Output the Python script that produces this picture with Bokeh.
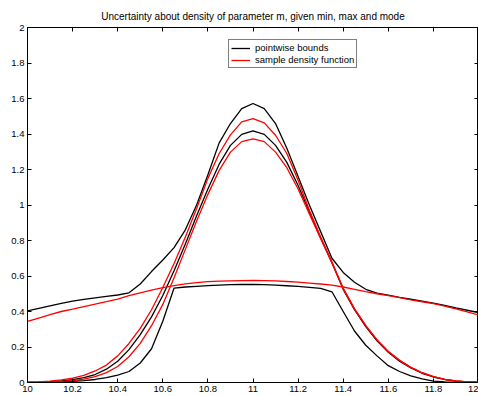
from bokeh.plotting import figure
from bokeh.models import Range1d, LinearAxis, FixedTicker, Legend, LegendItem
from bokeh.embed import file_html
from bokeh.resources import INLINE

title_text = "Uncertainty about density of parameter m, given min, max and mode"

x_vals = [10.00, 10.05, 10.10, 10.15, 10.20, 10.25, 10.30, 10.35, 10.40, 10.45,
          10.50, 10.55, 10.60, 10.65, 10.70, 10.75, 10.80, 10.85, 10.90, 10.95,
          11.00, 11.05, 11.10, 11.15, 11.20, 11.25, 11.30, 11.35, 11.40, 11.45,
          11.50, 11.55, 11.60, 11.65, 11.70, 11.75, 11.80, 11.85, 11.90, 11.95, 12.00]

# pointwise bounds (black)
bound_upper = [0.404, 0.418, 0.432, 0.446, 0.458, 0.468, 0.477, 0.485, 0.493, 0.505,
               0.555, 0.625, 0.690, 0.760, 0.860, 1.000, 1.170, 1.350, 1.459, 1.543,
               1.572, 1.543, 1.459, 1.320, 1.160, 1.000, 0.850, 0.700, 0.620, 0.565,
               0.525, 0.503, 0.492, 0.480, 0.469, 0.458, 0.447, 0.434, 0.420, 0.407, 0.394]
bound_lower = [0.000, 0.001, 0.002, 0.004, 0.007, 0.011, 0.017, 0.028, 0.042, 0.062,
               0.110, 0.190, 0.345, 0.532, 0.538, 0.542, 0.546, 0.549, 0.551, 0.552,
               0.552, 0.551, 0.549, 0.545, 0.541, 0.536, 0.530, 0.511, 0.400, 0.290,
               0.210, 0.150, 0.095, 0.062, 0.037, 0.020, 0.008, 0.003, 0.001, 0.000, 0.000]
bound_mid = [0.001, 0.002, 0.005, 0.009, 0.016, 0.027, 0.045, 0.075, 0.120, 0.185,
             0.270, 0.370, 0.490, 0.630, 0.780, 0.940, 1.090, 1.230, 1.336, 1.398,
             1.417, 1.398, 1.336, 1.240, 1.110, 0.960, 0.815, 0.675, 0.525, 0.410,
             0.315, 0.235, 0.170, 0.120, 0.082, 0.052, 0.031, 0.017, 0.008, 0.003, 0.001]

# sample density functions (red)
sample_high = [0.002, 0.004, 0.008, 0.015, 0.025, 0.040, 0.065, 0.098, 0.150, 0.220,
               0.305, 0.410, 0.535, 0.670, 0.820, 0.980, 1.150, 1.290, 1.395, 1.468,
               1.487, 1.463, 1.393, 1.290, 1.140, 0.970, 0.820, 0.680, 0.530, 0.415,
               0.320, 0.240, 0.175, 0.125, 0.085, 0.055, 0.033, 0.018, 0.009, 0.004, 0.002]
sample_low = [0.000, 0.001, 0.003, 0.006, 0.011, 0.019, 0.033, 0.056, 0.090, 0.145,
              0.220, 0.320, 0.440, 0.590, 0.750, 0.910, 1.060, 1.195, 1.298, 1.357,
              1.372, 1.357, 1.298, 1.210, 1.090, 0.950, 0.810, 0.675, 0.530, 0.415,
              0.320, 0.240, 0.175, 0.125, 0.085, 0.055, 0.033, 0.018, 0.009, 0.004, 0.002]
sample_flat = [0.344, 0.363, 0.382, 0.400, 0.413, 0.428, 0.441, 0.455, 0.470, 0.489,
               0.505, 0.520, 0.534, 0.546, 0.556, 0.563, 0.568, 0.571, 0.573, 0.574,
               0.575, 0.574, 0.572, 0.569, 0.565, 0.560, 0.555, 0.549, 0.538, 0.525,
               0.512, 0.500, 0.490, 0.478, 0.466, 0.455, 0.444, 0.430, 0.415, 0.398, 0.380]

x_ticks = [10.0, 10.2, 10.4, 10.6, 10.8, 11.0, 11.2, 11.4, 11.6, 11.8, 12.0]
x_tick_labels = ["10", "10.2", "10.4", "10.6", "10.8", "11", "11.2", "11.4", "11.6", "11.8", "12"]
y_ticks = [0.0, 0.2, 0.4, 0.6, 0.8, 1.0, 1.2, 1.4, 1.6, 1.8, 2.0]
y_tick_labels = ["0", "0.2", "0.4", "0.6", "0.8", "1", "1.2", "1.4", "1.6", "1.8", "2"]

FONT = "Liberation Sans"
FS = "9.5px"

p = figure(width=478, height=396, output_backend="svg", toolbar_location=None,
           x_range=Range1d(10, 12), y_range=Range1d(0, 2),
           min_border_left=27, min_border_right=0, min_border_top=27, min_border_bottom=14)
p.background_fill_color = "white"
p.border_fill_color = "white"
p.outline_line_color = "black"
p.outline_line_width = 1
p.xgrid.visible = False
p.ygrid.visible = False

p.title.text = title_text
p.title.align = "center"
p.title.text_font = FONT
p.title.text_font_size = "10px"
p.title.text_font_style = "normal"
p.title.text_color = "black"
p.title.offset = -6
p.title.standoff = 12


def style_axis(ax, ticks, labels, show_labels):
    ax.ticker = FixedTicker(ticks=ticks)
    ax.major_tick_in = 4
    ax.major_tick_out = 0
    ax.minor_tick_line_color = None
    ax.axis_line_color = "black"
    ax.major_tick_line_color = "black"
    ax.major_label_text_font = FONT
    ax.major_label_text_color = "black"
    if show_labels:
        ax.major_label_overrides = {t: l for t, l in zip(ticks, labels)}
        ax.major_label_text_font_size = FS
        ax.major_label_standoff = 3
    else:
        ax.major_label_overrides = {t: "" for t in ticks}
        ax.major_label_text_font_size = "0px"
        ax.major_label_standoff = 0


style_axis(p.xaxis[0], x_ticks, x_tick_labels, True)
style_axis(p.yaxis[0], y_ticks, y_tick_labels, True)
top_ax = LinearAxis()
right_ax = LinearAxis()
style_axis(top_ax, x_ticks, x_tick_labels, False)
style_axis(right_ax, y_ticks, y_tick_labels, False)
p.add_layout(top_ax, "above")
p.add_layout(right_ax, "right")

LW = 1.3
BLACK = "#000000"
RED = "#ff0000"
r_u = p.line(x_vals, bound_upper, line_color=BLACK, line_width=LW)
p.line(x_vals, bound_lower, line_color=BLACK, line_width=LW)
p.line(x_vals, bound_mid, line_color=BLACK, line_width=LW)
r_a = p.line(x_vals, sample_high, line_color=RED, line_width=LW)
p.line(x_vals, sample_low, line_color=RED, line_width=LW)
p.line(x_vals, sample_flat, line_color=RED, line_width=LW)

legend = Legend(items=[LegendItem(label="pointwise bounds", renderers=[r_u]),
                       LegendItem(label="sample density function", renderers=[r_a])],
                location=(201, 314))
legend.label_text_font = FONT
legend.label_text_font_size = FS
legend.label_text_color = "black"
legend.label_height = 10
legend.glyph_height = 10
legend.glyph_width = 19
legend.label_standoff = 5
legend.padding = 2
legend.spacing = 1
legend.margin = 0
legend.border_line_color = "black"
legend.border_line_width = 1
legend.background_fill_alpha = 1
p.add_layout(legend)

open("out.html", "w").write(file_html(p, INLINE))
